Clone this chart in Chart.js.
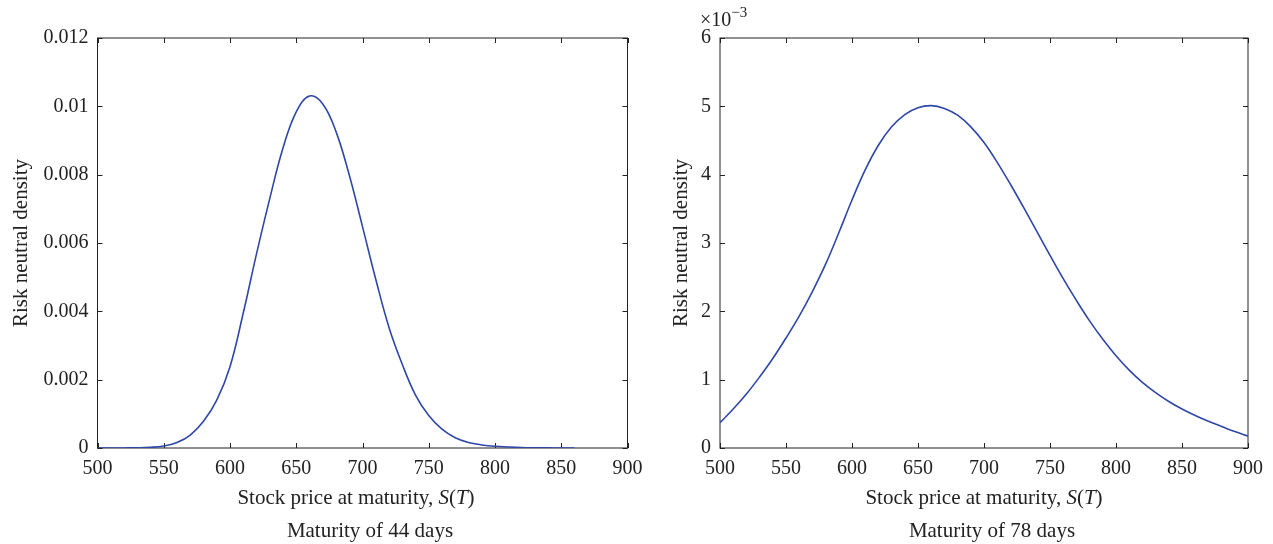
<!DOCTYPE html>
<html>
<head>
<meta charset="utf-8">
<script src="https://cdn.jsdelivr.net/npm/chart.js@4"></script>
<style>
  body { margin:0; background:#fff; }
  #wrap { position:relative; width:1273px; height:544px; overflow:hidden; font-family:'Liberation Serif', serif; color:#222; }
  canvas { position:absolute; top:0; }
  .lbl { position:absolute; width:400px; text-align:center; font-size:21px; line-height:24px; white-space:nowrap; }
  #exp { position:absolute; left:700px; top:1px; font-size:20px; line-height:24px; }
  #exp sup { font-size:15px; position:relative; top:-1px; }
</style>
</head>
<body>
<div id="wrap">
  <canvas id="chart44" width="660" height="544" style="left:0"></canvas>
  <canvas id="chart78" width="613" height="544" style="left:660px"></canvas>
  <div class="lbl" style="left:156px; top:485px">Stock price at maturity, <i>S</i>(<i>T</i>)</div>
  <div class="lbl" style="left:170px; top:518px">Maturity of 44 days</div>
  <div class="lbl" style="left:784px; top:485px">Stock price at maturity, <i>S</i>(<i>T</i>)</div>
  <div class="lbl" style="left:792px; top:518px">Maturity of 78 days</div>
  <div id="exp">×10<sup>−3</sup></div>
</div>
<script>
// maturity 44 days
const price44=[500,510,520,530,540,550,560,570,580,590,600,610,620,630,640,650,660,670,680,690,700,710,720,730,740,750,760,770,780,790,800,810,820,830,840,850,860];
const density44=[0,0.000001,0.000002,0.000005,0.00002,0.00006,0.00016,0.00038,0.00078,0.0014,0.00238,0.00395,0.00568,0.0073,0.00878,0.00984,0.0103,0.01007,0.00926,0.00799,0.00648,0.00494,0.00353,0.00245,0.00155,0.00095,0.00055,0.0003,0.00016,0.00009,0.00005,0.00003,0.000015,0.000007,0.000003,0.000001,0];
const yTicks44=[0,0.002,0.004,0.006,0.008,0.01,0.012];

// maturity 78 days, density in units of 1e-3 (as on the axis)
const price78=[500,510,520,530,540,550,560,570,580,590,600,610,620,630,640,650,660,670,680,690,700,710,720,730,740,750,760,770,780,790,800,810,820,830,840,850,860,870,880,890,900];
const density78=[0.37,0.57,0.79,1.04,1.31,1.61,1.93,2.29,2.69,3.15,3.63,4.07,4.43,4.7,4.88,4.98,5.01,4.97,4.87,4.7,4.47,4.18,3.86,3.52,3.17,2.82,2.48,2.16,1.86,1.59,1.35,1.14,0.96,0.81,0.68,0.57,0.475,0.39,0.315,0.24,0.175];
const yTicks78=[0,1,2,3,4,5,6];

const xTicks=[500,550,600,650,700,750,800,850,900];

Chart.defaults.font.family="'Liberation Serif', serif";
Chart.defaults.color='#222';

// box round the plot with ticks pointing inward on all sides
const frame={
  id:'frame',
  beforeDatasetsDraw(chart){
    const {ctx,chartArea:a,scales:{x,y}}=chart;
    ctx.save();
    ctx.strokeStyle='#222';
    ctx.lineWidth=1;
    ctx.strokeRect(a.left,a.top,a.right-a.left,a.bottom-a.top);
    ctx.beginPath();
    x.ticks.forEach(t=>{
      const px=Math.round(x.getPixelForValue(t.value))+0.5;
      ctx.moveTo(px,a.bottom); ctx.lineTo(px,a.bottom-5);
      ctx.moveTo(px,a.top); ctx.lineTo(px,a.top+5);
    });
    y.ticks.forEach(t=>{
      const py=Math.round(y.getPixelForValue(t.value))+0.5;
      ctx.moveTo(a.left,py); ctx.lineTo(a.left+5,py);
      ctx.moveTo(a.right,py); ctx.lineTo(a.right-5,py);
    });
    ctx.stroke();
    ctx.restore();
  }
};

function makeChart(id,xs,ys,yTicks,yWidth,titleOffset,padRight){
  const pts=xs.map((v,i)=>({x:v,y:ys[i]}));
  return new Chart(document.getElementById(id),{
    type:'line',
    data:{datasets:[{
      data:pts,
      borderColor:'#2f47a8',
      borderWidth:1.6,
      pointRadius:0,
      tension:0.4,
      fill:false
    }]},
    options:{
      responsive:false,
      animation:false,
      layout:{padding:{top:38,right:padRight,bottom:0,left:0}},
      plugins:{legend:{display:false},tooltip:{enabled:false}},
      scales:{
        x:{
          type:'linear',
          min:xTicks[0],max:xTicks[xTicks.length-1],
          border:{display:false},
          grid:{display:false,drawTicks:false},
          afterBuildTicks(s){ s.ticks=xTicks.map(v=>({value:v})); },
          ticks:{autoSkip:false,maxRotation:0,padding:9,font:{size:20}},
          afterFit(s){ s.height=96; s.paddingLeft=0; s.paddingRight=0; }
        },
        y:{
          min:yTicks[0],max:yTicks[yTicks.length-1],
          border:{display:false},
          grid:{display:false,drawTicks:false},
          afterBuildTicks(s){ s.ticks=yTicks.map(v=>({value:v})); },
          ticks:{padding:9,font:{size:20},callback:(v)=>String(+Number(v).toFixed(4))},
          title:{display:true,text:'Risk neutral density',font:{size:21},padding:{top:titleOffset,bottom:0}},
          afterFit(s){ s.width=yWidth; s.paddingTop=0; s.paddingBottom=0; }
        }
      }
    },
    plugins:[frame]
  });
}

makeChart('chart44',price44,density44,yTicks44,97.5,8.4,32.5);
makeChart('chart78',price78,density78,yTicks78,60,8.4,25);
</script>
</body>
</html>
